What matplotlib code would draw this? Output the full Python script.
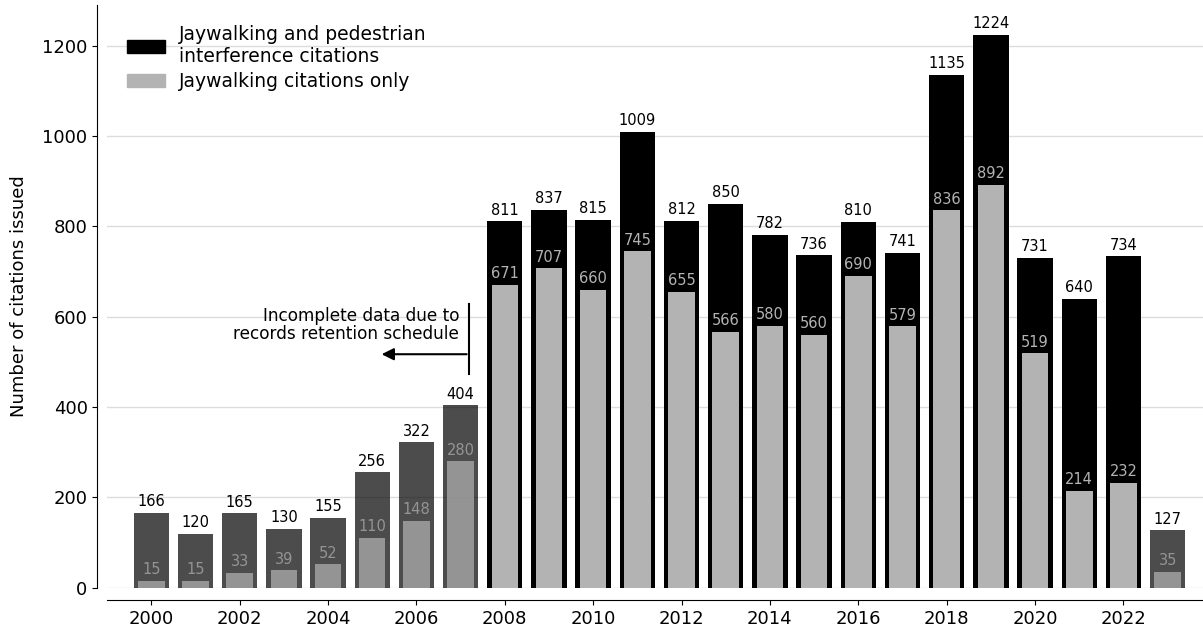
import numpy as np
import matplotlib.pyplot as plt
from matplotlib.patches import Patch

# Data
years = np.arange(2000, 2024)
total = [166, 120, 165, 130, 155, 256, 322, 404, 811, 837, 815, 1009, 812,
         850, 782, 736, 810, 741, 1135, 1224, 731, 640, 734, 127]
jaywalking = [15, 15, 33, 39, 52, 110, 148, 280, 671, 707, 660, 745, 655,
              566, 580, 560, 690, 579, 836, 892, 519, 214, 232, 35]
incomplete = [2000, 2001, 2002, 2003, 2004, 2005, 2006, 2007, 2023]

gray = "#b3b3b3"

fig, ax = plt.subplots(figsize=(12.03, 6.32), dpi=100)
fig.subplots_adjust(left=0.089, right=1.0, top=0.992, bottom=0.07)

for yr, t, j in zip(years, total, jaywalking):
    a = 0.7 if yr in incomplete else 1.0
    ax.bar(yr, t, width=0.8, color="black", alpha=a, zorder=2)
    ax.bar(yr, j, width=0.6, color=gray, alpha=a, zorder=3)
    ax.text(yr, t + 8, str(t), ha="center", va="bottom", fontsize=10.5,
            color="black", zorder=4)
    ax.text(yr, j + 8, str(j), ha="center", va="bottom", fontsize=10.5,
            color=gray, alpha=a, zorder=4)

# annotation for incomplete years
ax.plot([2007.2, 2007.2], [473, 628], color="black", lw=1.5, zorder=5)
ax.annotate("", xy=(2005.15, 517), xytext=(2007.2, 517),
            arrowprops=dict(arrowstyle="-|>", color="black", lw=1.5,
                            mutation_scale=18))
ax.text(2006.97, 582, "Incomplete data due to\nrecords retention schedule",
        ha="right", va="center", fontsize=12.2, linespacing=1.0)

ax.set_xlim(1999.0, 2023.8)
ax.set_ylim(0, 1290)
ax.set_yticks(range(0, 1201, 200))
ax.set_xticks(range(2000, 2023, 2))
ax.tick_params(labelsize=13)
ax.set_ylabel("Number of citations issued", fontsize=13, labelpad=10)

ax.grid(axis="y", color="#dddddd", lw=1, zorder=0)
ax.set_axisbelow(True)
for s in ["top", "right"]:
    ax.spines[s].set_visible(False)
ax.spines["left"].set_position(("outward", 7))
ax.spines["bottom"].set_position(("outward", 9))

handles = [Patch(color="black"), Patch(color=gray)]
ax.legend(handles, ["Jaywalking and pedestrian\ninterference citations",
                    "Jaywalking citations only"],
          loc="upper left", frameon=False, fontsize=13.5,
          bbox_to_anchor=(0.003, 0.995), handlelength=2.0, handleheight=0.7,
          labelspacing=0.35, handletextpad=0.75)

fig.savefig("out.png", dpi=100)
